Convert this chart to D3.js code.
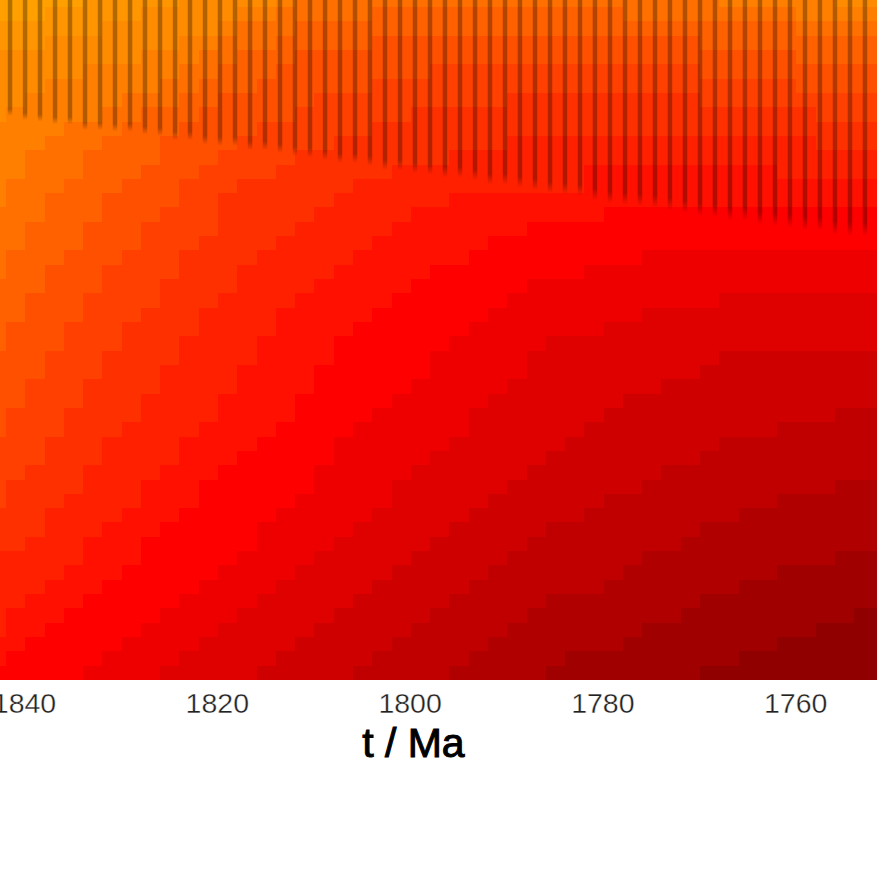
<!DOCTYPE html>
<html>
<head>
<meta charset="utf-8">
<script src="https://cdnjs.cloudflare.com/ajax/libs/d3/7.8.5/d3.min.js"></script>
<style>html,body{margin:0;padding:0;background:#fff}svg{display:block}</style>
</head>
<body>
<div id="chart"></div>
<script>
// Age (Ma) at the centre of each grid column
const columnAges = [1842.87,1840.87,1838.87,1836.87,1834.87,1832.87,1830.87,1828.87,1826.87,1824.87,1822.87,1820.87,1818.87,1816.87,1814.87,1812.87,1810.87,1808.87,1806.87,1804.87,1802.87,1800.87,1798.87,1796.87,1794.87,1792.87,1790.87,1788.87,1786.87,1784.87,1782.87,1780.87,1778.87,1776.87,1774.87,1772.87,1770.87,1768.87,1766.87,1764.87,1762.87,1760.87,1758.87,1756.87,1754.87,1752.87,1750.87];
const rowCount = 48;
// For each colour level: how many grid rows from the top, per column, are at that level or above
const rowsAtLevel19 = [2,2,2,1,1,0,0,0,0,0,0,0,0,0,0,0,0,0,0,0,0,0,0,0,0,0,0,0,0,0,0,0,0,0,0,0,0,0,0,0,0,0,0,0,0,0,0];
const rowsAtLevel18 = [4,4,4,3,3,3,2,2,1,1,0,0,0,0,0,0,0,0,0,0,0,0,0,0,0,0,0,0,0,0,0,0,0,0,0,0,0,0,0,0,0,0,0,0,0,0,0];
const rowsAtLevel17 = [9,8,7,6,6,5,5,5,4,4,3,3,2,1,1,0,0,0,0,0,0,0,0,0,0,0,0,0,0,0,0,0,0,0,0,0,0,0,0,0,0,0,0,0,1,1,1];
const rowsAtLevel16 = [15,13,11,10,9,9,8,7,7,6,5,4,3,2,2,1,0,0,0,0,0,0,0,0,0,0,0,0,0,0,0,0,0,0,0,0,0,0,1,1,1,1,2,2,2,2,2];
const rowsAtLevel15 = [20,18,16,14,13,11,10,9,8,8,7,6,5,4,4,3,2,2,2,2,1,1,1,1,1,1,1,1,1,1,1,1,1,2,2,2,2,2,2,2,2,2,3,3,3,3,3];
const rowsAtLevel14 = [25,23,21,19,18,16,14,13,12,10,9,8,7,7,6,5,4,4,4,4,3,3,3,3,3,3,3,3,3,3,3,3,3,3,3,3,3,4,4,4,4,4,5,5,5,5,5];
const rowsAtLevel13 = [31,29,27,25,23,21,19,18,16,15,13,12,11,10,9,9,8,7,7,7,6,6,6,5,5,5,5,5,5,5,5,5,5,5,5,5,5,6,6,6,6,6,7,7,7,7,7];
const rowsAtLevel12 = [36,34,33,31,29,27,25,23,22,20,18,17,14,13,13,12,11,11,10,10,9,9,8,8,8,8,8,7,7,7,7,7,7,7,7,7,7,8,8,8,8,8,8,9,9,9,9];
const rowsAtLevel11 = [39,39,38,36,35,33,31,30,28,26,24,22,21,19,18,17,16,15,14,13,13,12,12,12,11,11,11,10,10,10,10,10,10,10,10,10,10,10,10,10,10,10,10,11,11,11,11];
const rowsAtLevel10 = [45,43,42,41,40,38,37,36,34,33,31,30,28,26,24,22,21,20,19,18,17,16,15,15,14,14,14,14,14,14,14,12,12,12,12,12,12,12,12,12,12,13,13,13,13,13,13];
const rowsAtLevel9  = [47,46,45,44,43,42,41,40,38,37,36,34,33,32,31,30,28,26,24,23,22,21,20,19,19,18,17,17,16,16,16,16,15,15,15,15,15,15,15,15,15,15,15,15,15,15,15];
const rowsAtLevel8  = [48,48,48,48,48,47,46,45,44,43,42,41,40,39,37,36,35,33,31,30,29,28,27,25,24,23,22,21,20,20,20,19,19,19,18,18,18,18,18,18,18,18,18,18,18,18,18];
const rowsAtLevel7  = [48,48,48,48,48,48,48,48,48,47,46,45,44,43,42,41,40,39,38,37,36,34,33,32,31,29,28,27,25,24,24,24,23,23,22,22,22,22,21,21,21,21,21,21,21,21,21];
const rowsAtLevel6  = [48,48,48,48,48,48,48,48,48,48,48,48,48,48,47,46,45,44,43,42,41,40,39,38,37,36,35,34,33,32,31,30,29,28,28,27,27,26,25,25,25,25,25,25,25,25,25];
const rowsAtLevel5  = [48,48,48,48,48,48,48,48,48,48,48,48,48,48,48,48,48,48,48,47,46,45,44,43,42,41,40,39,38,37,37,36,35,35,34,33,33,32,31,31,31,30,30,30,29,29,29];
const rowsAtLevel4  = [48,48,48,48,48,48,48,48,48,48,48,48,48,48,48,48,48,48,48,48,48,48,48,48,47,46,45,44,43,42,42,42,41,40,39,39,38,37,37,36,36,35,35,35,34,34,34];
const rowsAtLevel3  = [48,48,48,48,48,48,48,48,48,48,48,48,48,48,48,48,48,48,48,48,48,48,48,48,48,48,48,48,48,47,46,46,46,45,44,44,43,42,42,41,41,40,40,40,39,39,39];
const rowsAtLevel2  = [48,48,48,48,48,48,48,48,48,48,48,48,48,48,48,48,48,48,48,48,48,48,48,48,48,48,48,48,48,48,48,48,48,48,48,48,48,47,47,46,46,45,45,44,44,43,43];

// Dark bars: age (Ma) and the grid depth (rows) where each one ends
const barAges = [1841.45,1839.89,1838.34,1836.78,1835.23,1833.67,1832.11,1830.56,1829.00,1827.45,1825.89,1824.33,1822.78,1821.22,1819.67,1818.11,1816.55,1815.00,1813.44,1811.89,1810.33,1808.77,1807.22,1805.66,1804.11,1802.55,1800.99,1799.44,1797.88,1796.33,1794.77,1793.21,1791.66,1790.10,1788.55,1786.99,1785.43,1783.88,1782.32,1780.77,1779.21,1777.65,1776.10,1774.54,1772.99,1771.43,1769.87,1768.32,1766.76,1765.21,1763.65,1762.09,1760.54,1758.98,1757.43,1755.87,1754.31,1752.76];
const barDepths = [8.4,8.7,8.8,9.0,9.0,9.4,9.4,9.5,9.5,9.7,9.8,10.1,10.1,10.4,10.5,10.5,10.8,10.8,11.0,11.2,11.3,11.5,11.7,11.7,11.9,12.2,12.2,12.4,12.5,12.7,12.7,12.9,13.2,13.2,13.4,13.6,13.8,13.9,14.0,14.3,14.5,14.6,14.7,14.8,15.0,15.2,15.4,15.5,15.7,15.7,16.0,16.1,16.2,16.4,16.4,16.7,16.8,16.8];

const tickAges = [1840,1820,1800,1780,1760];
const tickLabels = ["1840","1820","1800","1780","1760"];
const xLabel = "t / Ma";

const levelEdges = [
  [19,rowsAtLevel19],[18,rowsAtLevel18],[17,rowsAtLevel17],[16,rowsAtLevel16],[15,rowsAtLevel15],
  [14,rowsAtLevel14],[13,rowsAtLevel13],[12,rowsAtLevel12],[11,rowsAtLevel11],[10,rowsAtLevel10],
  [9,rowsAtLevel9],[8,rowsAtLevel8],[7,rowsAtLevel7],[6,rowsAtLevel6],[5,rowsAtLevel5],
  [4,rowsAtLevel4],[3,rowsAtLevel3],[2,rowsAtLevel2]
];

const W = 877, H = 870, plotH = 680;
const svg = d3.select("#chart").append("svg").attr("width", W).attr("height", H);

const x = d3.scaleLinear().domain([1842.49, 1751.51]).range([0, W]);
const y = d3.scaleLinear().domain([1, rowCount]).range([7, plotH]);
const color = d3.scaleLinear().domain([0, 8, 16, 19]).range(["#800000", "#ff0000", "#ff8000", "#ffa000"]);

const defs = svg.append("defs");
defs.append("clipPath").attr("id", "plot").append("rect")
  .attr("width", W).attr("height", plotH);
const fade = defs.append("linearGradient").attr("id", "barFade")
  .attr("x1", 0).attr("x2", 0).attr("y1", 0).attr("y2", 1);
fade.append("stop").attr("offset", 0.94).attr("stop-color", "#000").attr("stop-opacity", 0.3);
fade.append("stop").attr("offset", 1).attr("stop-color", "#000").attr("stop-opacity", 0);

const cells = [];
columnAges.forEach((age, c) => {
  d3.range(rowCount).forEach(r => {
    const hit = levelEdges.find(e => r < e[1][c]);
    cells.push({age, r, level: hit ? hit[0] : 1});
  });
});

const plot = svg.append("g").attr("clip-path", "url(#plot)");
plot.append("g").attr("shape-rendering", "crispEdges").selectAll("rect").data(cells).join("rect")
  .attr("x", d => x(d.age + 1))
  .attr("width", d => x(d.age - 1) - x(d.age + 1) + 0.5)
  .attr("y", d => y(d.r))
  .attr("height", d => y(d.r + 1) - y(d.r) + 0.5)
  .attr("fill", d => color(d.level));

const bars = barAges.map((age, i) => ({age, depth: barDepths[i]}));
plot.append("g").selectAll("rect").data(bars).join("rect")
  .attr("x", d => x(d.age) - 2.25)
  .attr("width", 4.5)
  .attr("y", 0)
  .attr("height", d => y(d.depth) + 3)
  .attr("fill", "url(#barFade)");

const axis = d3.axisBottom(x).tickValues(tickAges).tickSize(0).tickPadding(0)
  .tickFormat((d, i) => tickLabels[i]);
const ax = svg.append("g").attr("transform", `translate(0,${plotH})`).call(axis);
ax.select(".domain").remove();
ax.selectAll("text")
  .attr("y", 33)
  .attr("dy", 0)
  .attr("font-family", "'Liberation Sans', Arial, sans-serif")
  .attr("font-size", 28.5)
  .attr("fill", "#222")
  .attr("stroke", "#fff")
  .attr("stroke-width", 0.35);

svg.append("text")
  .attr("x", x(1799.6))
  .attr("y", 757)
  .attr("text-anchor", "middle")
  .attr("font-family", "'Liberation Sans', Arial, sans-serif")
  .attr("font-size", 41)
  .attr("fill", "#000")
  .attr("stroke", "#000")
  .attr("stroke-width", 1)
  .text(xLabel);
</script>
</body>
</html>
